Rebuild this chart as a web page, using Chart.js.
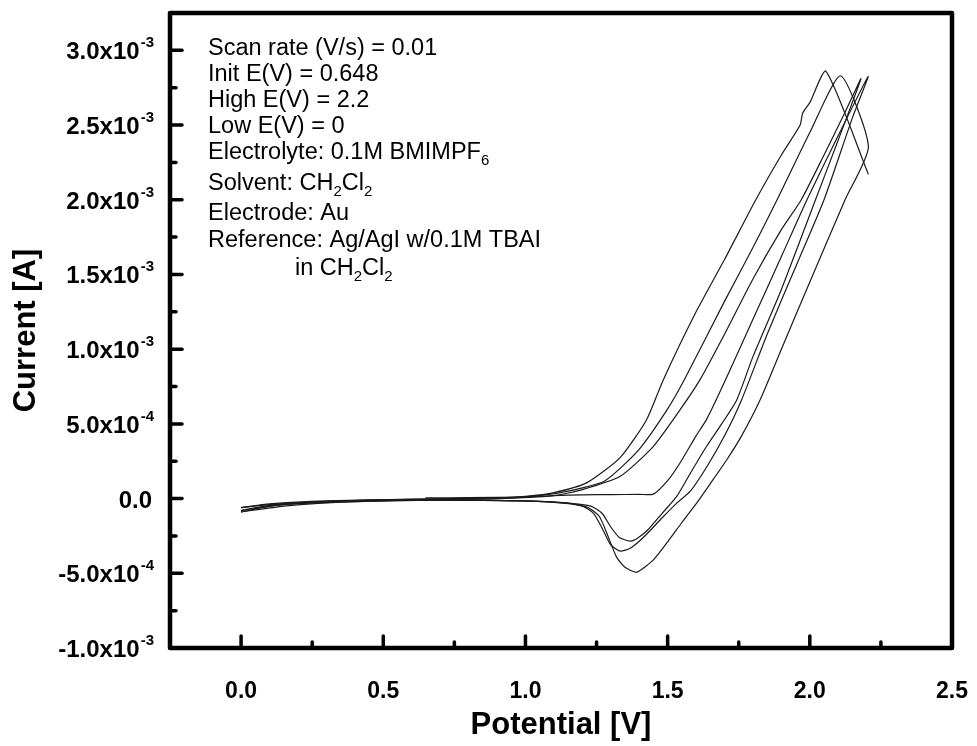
<!DOCTYPE html>
<html>
<head>
<meta charset="utf-8">
<script src="https://cdn.jsdelivr.net/npm/chart.js@4.4.1/dist/chart.umd.min.js"></script>
<style>
    html, body { margin: 0; padding: 0; background: #fff; }
    #wrap { width: 977px; height: 746px; }
</style>
</head>
<body>
<div id="wrap"><canvas id="cvChart" width="977" height="746"></canvas></div>
<script>
// Cycle 1 (starts at Init E = 0.648 V)
const cycle1V = [0.648, 0.8, 1.0, 1.1, 1.2, 1.3, 1.4, 1.45, 1.5, 1.544, 1.6, 1.637, 1.7, 1.8, 1.9, 1.99, 2.1, 2.205,
    2.15, 2.05, 1.95, 1.85, 1.76, 1.7, 1.64, 1.58, 1.532, 1.48, 1.42, 1.37, 1.333, 1.3, 1.27, 1.24, 1.2, 1.1, 0.9, 0.6, 0.3, 0.1, 0.0];
const cycle1I = [5e-6, 6e-6, 1e-5, 2e-5, 2.5e-5, 2.7e-5, 2.8e-5, 3e-5, 1.2e-4, 2.4e-4, 4.2e-4, 5.3e-4, 7.8e-4, 1.2e-3, 1.62e-3, 2.0e-3, 2.43e-3, 2.825e-3,
    2.55e-3, 2.0e-3, 1.55e-3, 1.1e-3, 6.6e-4, 4.2e-4, 2.2e-4, 5e-5, -3e-5, -1.3e-4, -2.5e-4, -3.3e-4, -3.52e-4, -3.1e-4, -2.0e-4, -1.0e-4, -5e-5, -2.5e-5, -1.2e-5, -1e-5, -2e-5, -4e-5, -6e-5];

// Cycle 2
const cycle2V = [0.0, 0.1, 0.3, 0.6, 0.9, 1.1, 1.2, 1.333, 1.45, 1.544, 1.614, 1.7, 1.8, 1.9, 1.97, 2.05, 2.12, 2.18,
    2.1, 2.02, 1.9, 1.8, 1.743, 1.69, 1.637, 1.58, 1.532, 1.48, 1.43, 1.39, 1.368, 1.33, 1.3, 1.27, 1.23, 1.15, 1.0, 0.7, 0.4, 0.15, 0.0];
const cycle2I = [-6e-5, -3.5e-5, -1.5e-5, -5e-6, 0, 2e-5, 6e-5, 1.49e-4, 3.5e-4, 5.95e-4, 7.96e-4, 1.1e-3, 1.47e-3, 1.8e-3, 2.0e-3, 2.3e-3, 2.57e-3, 2.81e-3,
    2.4e-3, 2.0e-3, 1.4e-3, 9.5e-4, 6.6e-4, 5.0e-4, 3.5e-4, 1.7e-4, 1.5e-5, -1.0e-4, -2.1e-4, -2.7e-4, -2.85e-4, -2.6e-4, -1.9e-4, -1.0e-4, -5e-5, -3e-5, -1.5e-5, -1e-5, -2e-5, -4e-5, -8e-5];

// Cycle 3
const cycle3V = [0.0, 0.1, 0.3, 0.6, 0.9, 1.05, 1.15, 1.28, 1.4, 1.5, 1.56, 1.7, 1.8, 1.885, 2.0, 2.108, 2.206,
    2.124, 2.0, 1.9, 1.825, 1.76, 1.708, 1.65, 1.602, 1.55, 1.5, 1.45, 1.391, 1.35, 1.32, 1.29, 1.26, 1.22, 1.15, 1.0, 0.7, 0.4, 0.15, 0.0];
const cycle3I = [-8e-5, -4.5e-5, -1.8e-5, -5e-6, 4e-6, 2e-5, 5e-5, 1.2e-4, 3.3e-4, 6.0e-4, 8.0e-4, 1.32e-3, 1.68e-3, 2.0e-3, 2.45e-3, 2.83e-3, 2.355e-3,
    2.0e-3, 1.45e-3, 1.0e-3, 6.6e-4, 4.2e-4, 2.6e-4, 1.0e-4, -3e-5, -1.6e-4, -2.9e-4, -4.1e-4, -4.93e-4, -4.6e-4, -3.9e-4, -2.5e-4, -1.2e-4, -6e-5, -3e-5, -1.5e-5, -1e-5, -2e-5, -5e-5, -9e-5];

// Cycle 4 (last, stops at 2.2 V)
const cycle4V = [0.0, 0.1, 0.3, 0.6, 0.9, 1.0, 1.1, 1.215, 1.333, 1.426, 1.485, 1.6, 1.7, 1.81, 1.9, 1.966, 1.975, 2.0, 2.057, 2.206];
const cycle4I = [-9e-5, -5e-5, -2e-5, -5e-6, 5e-6, 1.5e-5, 4e-5, 1.05e-4, 2.74e-4, 5.28e-4, 7.96e-4, 1.25e-3, 1.6e-3, 2.0e-3, 2.3e-3, 2.5e-3, 2.58e-3, 2.65e-3, 2.86e-3, 2.17e-3];

const xTicks = [0.0, 0.5, 1.0, 1.5, 2.0, 2.5];
const yTicks = [-1.0e-3, -5.0e-4, 0.0, 5.0e-4, 1.0e-3, 1.5e-3, 2.0e-3, 2.5e-3, 3.0e-3];

const noteLines = [
    [['Scan rate (V/s) = 0.01']],
    [['Init E(V) = 0.648']],
    [['High E(V) = 2.2']],
    [['Low E(V) = 0']],
    [['Electrolyte: 0.1M BMIMPF'], ['6', 'sub']],
    [['Solvent: CH'], ['2', 'sub'], ['Cl'], ['2', 'sub']],
    [['Electrode: Au']],
    [['Reference: Ag/AgI w/0.1M TBAI']],
    [['in CH'], ['2', 'sub'], ['Cl'], ['2', 'sub']]
];
const noteX = [208, 208, 208, 208, 208, 208, 208, 208, 295];
const noteY = [55, 81, 107, 133, 159, 190, 220, 247, 275];

const FONT = "'Liberation Sans', Arial, Helvetica, sans-serif";

function toPoints(xs, ys) {
    return xs.map((v, i) => ({ x: v, y: ys[i] }));
}

function supLabel(v) {
    if (Math.abs(v) < 1e-12) return null;
    const e = Math.floor(Math.log10(Math.abs(v)) + 1e-9);
    const m = v / Math.pow(10, e);
    return { main: m.toFixed(1) + 'x10', sup: String(e) };
}

// frame, inward ticks, y labels with exponents, notes
const decoPlugin = {
    id: 'deco',
    afterDraw(chart) {
        const { ctx, chartArea: a, scales } = chart;
        const x = scales.x, y = scales.y;
        ctx.save();

        // inward ticks
        ctx.strokeStyle = '#000';
        ctx.lineCap = 'round';
        ctx.lineWidth = 3.5;
        xTicks.forEach((t, i) => {
            const px = x.getPixelForValue(t);
            if (px > a.left + 3 && px < a.right - 3) {
                ctx.beginPath(); ctx.moveTo(px, a.bottom); ctx.lineTo(px, a.bottom - 12); ctx.stroke();
            }
            if (i < xTicks.length - 1) {
                const pm = x.getPixelForValue((t + xTicks[i + 1]) / 2);
                ctx.beginPath(); ctx.moveTo(pm, a.bottom); ctx.lineTo(pm, a.bottom - 6); ctx.stroke();
            }
        });
        yTicks.forEach((t, i) => {
            const py = y.getPixelForValue(t);
            if (py > a.top + 3 && py < a.bottom - 3) {
                ctx.beginPath(); ctx.moveTo(a.left, py); ctx.lineTo(a.left + 12, py); ctx.stroke();
            }
            if (i < yTicks.length - 1) {
                const pm = y.getPixelForValue((t + yTicks[i + 1]) / 2);
                ctx.beginPath(); ctx.moveTo(a.left, pm); ctx.lineTo(a.left + 6, pm); ctx.stroke();
            }
        });

        // frame
        ctx.lineWidth = 4.5;
        ctx.lineJoin = 'round';
        ctx.strokeRect(a.left, a.top, a.right - a.left, a.bottom - a.top);

        // y tick labels with exponent
        ctx.fillStyle = '#000';
        ctx.textBaseline = 'alphabetic';
        const rightEdge = 154;
        yTicks.forEach(t => {
            const py = y.getPixelForValue(t);
            const lab = supLabel(t);
            if (!lab) {
                ctx.font = 'bold 24px ' + FONT;
                ctx.textAlign = 'right';
                ctx.fillText('0.0', rightEdge - 2, py + 9);
                return;
            }
            ctx.font = 'bold 15px ' + FONT;
            ctx.textAlign = 'right';
            ctx.fillText(lab.sup, rightEdge, py - 3);
            const sw = ctx.measureText(lab.sup).width;
            ctx.font = 'bold 24px ' + FONT;
            ctx.fillText(lab.main, rightEdge - sw - 1, py + 9);
        });

        // notes
        ctx.textAlign = 'left';
        noteLines.forEach((parts, k) => {
            let cx = noteX[k];
            const by = noteY[k];
            parts.forEach(p => {
                if (p[1] === 'sub') {
                    ctx.font = '15px ' + FONT;
                    ctx.fillText(p[0], cx, by + 6);
                } else {
                    ctx.font = '23.5px ' + FONT;
                    ctx.fillText(p[0], cx, by);
                }
                cx += ctx.measureText(p[0]).width;
            });
        });
        ctx.restore();
    }
};

const lineStyle = {
    showLine: true,
    borderColor: '#1a1a1a',
    borderWidth: 1.2,
    pointRadius: 0,
    tension: 0.2,
    fill: false
};

const ctxCv = document.getElementById('cvChart').getContext('2d');
new Chart(ctxCv, {
    type: 'scatter',
    data: {
        datasets: [
            Object.assign({ label: 'Cycle 1', data: toPoints(cycle1V, cycle1I) }, lineStyle),
            Object.assign({ label: 'Cycle 2', data: toPoints(cycle2V, cycle2I) }, lineStyle),
            Object.assign({ label: 'Cycle 3', data: toPoints(cycle3V, cycle3I) }, lineStyle),
            Object.assign({ label: 'Cycle 4', data: toPoints(cycle4V, cycle4I) }, lineStyle)
        ]
    },
    options: {
        responsive: false,
        animation: false,
        layout: { padding: { left: 0, right: 25, top: 13, bottom: 0 } },
        plugins: {
            legend: { display: false },
            tooltip: { enabled: false }
        },
        scales: {
            x: {
                type: 'linear',
                min: -0.25,
                max: 2.5,
                afterFit: s => { s.height = 98; s.paddingLeft = 0; s.paddingRight = 0; },
                afterBuildTicks: s => { s.ticks = xTicks.map(v => ({ value: v })); },
                grid: { display: false, drawTicks: false },
                border: { display: false },
                ticks: {
                    padding: 30,
                    color: '#000',
                    font: { family: FONT, size: 23, weight: 'bold' },
                    callback: v => v.toFixed(1)
                },
                title: {
                    display: true,
                    text: 'Potential [V]',
                    color: '#000',
                    font: { family: FONT, size: 31, weight: 'bold' },
                    padding: { top: 0, bottom: 2 }
                }
            },
            y: {
                type: 'linear',
                min: -1.0e-3,
                max: 3.25e-3,
                afterFit: s => { s.width = 170; s.paddingTop = 0; s.paddingBottom = 0; },
                afterBuildTicks: s => { s.ticks = yTicks.map(v => ({ value: v })); },
                grid: { display: false, drawTicks: false },
                border: { display: false },
                ticks: { display: false },
                title: {
                    display: true,
                    text: 'Current [A]',
                    color: '#000',
                    font: { family: FONT, size: 31, weight: 'bold' },
                    padding: { top: 8, bottom: 0 }
                }
            }
        }
    },
    plugins: [decoPlugin]
});
</script>
</body>
</html>
